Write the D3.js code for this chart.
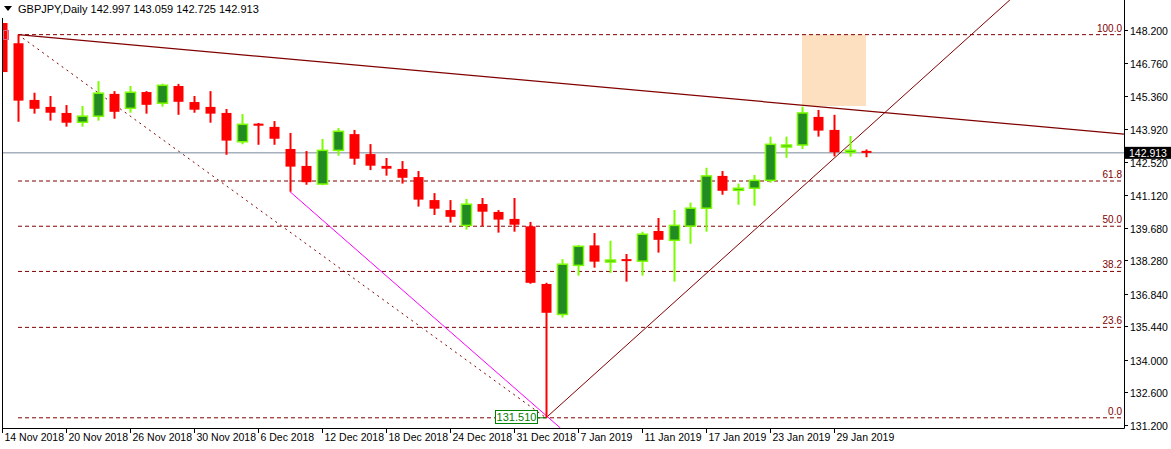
<!DOCTYPE html>
<html>
<head>
<meta charset="utf-8">
<script src="https://cdn.jsdelivr.net/npm/d3@7"></script>
<style>
  body { margin: 0; background: #fff; }
  text { font-family: "Liberation Sans", Arial, sans-serif; }
</style>
</head>
<body>
<div id="container"></div>
<script>
// candle data (index -1 is the half bar at the left edge)
var opens  = [148.50, 147.63, 145.19, 144.89, 144.63, 144.23, 144.49, 145.45, 144.83, 145.53, 145.05, 145.79, 145.10, 144.89, 144.63, 143.39, 144.17, 144.03, 143.08, 142.35, 141.57, 143.02, 143.72, 142.86, 142.35, 142.22, 141.87, 140.88, 140.45, 139.79, 140.71, 140.37, 140.07, 139.75, 137.27, 135.96, 138.07, 138.93, 138.25, 138.34, 138.25, 139.55, 139.15, 139.76, 140.53, 141.92, 141.30, 141.39, 141.73, 143.21, 143.25, 144.46, 143.90, 142.94, 142.997];
var highs  = [148.50, 148.00, 145.50, 145.36, 144.97, 144.93, 146.00, 145.57, 145.79, 145.57, 145.89, 145.88, 145.36, 145.57, 144.80, 144.58, 144.20, 144.28, 143.77, 142.99, 143.51, 143.98, 143.90, 143.29, 142.69, 142.56, 142.13, 141.18, 140.88, 140.93, 140.97, 140.45, 140.97, 139.94, 137.32, 138.34, 138.95, 139.46, 139.13, 138.56, 139.52, 140.11, 140.45, 140.77, 142.27, 142.13, 141.59, 141.96, 143.61, 143.61, 144.90, 144.76, 144.55, 143.64, 143.059];
var lows   = [146.39, 144.25, 144.60, 144.30, 144.04, 144.04, 144.30, 144.38, 144.64, 144.60, 144.90, 144.55, 144.64, 144.21, 142.83, 143.28, 143.26, 143.26, 141.24, 141.54, 141.52, 142.79, 142.40, 142.17, 141.93, 141.59, 140.60, 140.24, 139.91, 139.61, 139.76, 139.48, 139.52, 137.28, 131.51, 135.82, 137.63, 137.97, 137.75, 137.37, 137.63, 138.62, 137.37, 139.00, 139.52, 141.11, 140.68, 140.64, 141.63, 142.70, 143.08, 143.61, 142.76, 142.75, 142.725];
var closes = [146.39, 145.16, 144.81, 144.64, 144.21, 144.49, 145.48, 144.68, 145.52, 144.98, 145.82, 145.11, 144.77, 144.60, 143.44, 144.14, 144.08, 143.52, 142.32, 141.65, 143.02, 143.84, 142.66, 142.36, 142.23, 141.84, 140.90, 140.51, 140.16, 140.70, 140.38, 140.04, 139.82, 137.32, 136.03, 138.12, 138.89, 138.23, 138.30, 138.29, 139.41, 139.17, 139.79, 140.53, 141.92, 141.28, 141.39, 141.73, 143.28, 143.25, 144.63, 143.87, 142.94, 143.02, 142.913];

var dateLabels = ["14 Nov 2018", "20 Nov 2018", "26 Nov 2018", "30 Nov 2018", "6 Dec 2018", "12 Dec 2018", "18 Dec 2018", "24 Dec 2018", "31 Dec 2018", "7 Jan 2019", "11 Jan 2019", "17 Jan 2019", "23 Jan 2019", "29 Jan 2019"];
var dateIdx = [-1, 3, 7, 11, 15, 19, 23, 27, 31, 35, 39, 43, 47, 51];
var priceTicks = [148.2, 146.76, 145.36, 143.92, 142.52, 141.12, 139.68, 138.28, 136.84, 135.44, 134.0, 132.6, 131.2];

var fibHigh = 148.0, fibLow = 131.51;
var fibLevels = [0, 23.6, 38.2, 50, 61.8, 100];
var lastPrice = 142.913;

var W = 1171, H = 449;
var left = 2, right = 1124, bottom = 428;

var x = d3.scaleLinear().domain([-1, 53]).range([2, 866]);
var y = d3.scaleLinear().domain([131.2, 148.2]).range([425, 30]);

var svg = d3.select("#container").append("svg").attr("width", W).attr("height", H);

svg.append("clipPath").attr("id", "plot")
  .append("rect").attr("x", left).attr("y", 0).attr("width", right - left).attr("height", bottom);

var plot = svg.append("g").attr("clip-path", "url(#plot)");

// orange zone
plot.append("rect")
  .attr("x", x(49)).attr("y", y(148.0))
  .attr("width", x(53) - x(49)).attr("height", y(144.93) - y(148.0))
  .attr("fill", "#fde0c0");

// fibo levels
fibLevels.forEach(function (l) {
  var p = fibLow + (fibHigh - fibLow) * l / 100;
  plot.append("line")
    .attr("x1", x(0)).attr("x2", right).attr("y1", y(p)).attr("y2", y(p))
    .attr("stroke", "#800000").attr("stroke-dasharray", "4,3");
  svg.append("text")
    .attr("x", right - 2).attr("y", y(p) - 3)
    .attr("text-anchor", "end").attr("font-size", 10).attr("fill", "#800000")
    .text(l.toFixed(1));
});

// fibo base line (dotted)
plot.append("line")
  .attr("x1", x(0)).attr("y1", y(fibHigh)).attr("x2", x(33)).attr("y2", y(fibLow))
  .attr("stroke", "#800000").attr("stroke-dasharray", "2,4");

// bid line
plot.append("line")
  .attr("x1", left).attr("x2", right).attr("y1", y(lastPrice)).attr("y2", y(lastPrice))
  .attr("stroke", "#778899");

// trend lines
plot.append("line")
  .attr("x1", x(0)).attr("y1", y(fibHigh)).attr("x2", right).attr("y2", y(143.72))
  .attr("stroke", "#800000").attr("stroke-width", 1.2);
plot.append("line")
  .attr("x1", x(33)).attr("y1", y(131.51)).attr("x2", x(62)).attr("y2", y(149.5))
  .attr("stroke", "#800000");
plot.append("line")
  .attr("x1", x(17)).attr("y1", y(141.24)).attr("x2", x(33.9)).attr("y2", y(131.07))
  .attr("stroke", "#ff00ff");

// candles
var idx = d3.range(opens.length);
var bw = 10;
idx.forEach(function (k) {
  var i = k - 1;
  var up = closes[k] >= opens[k];
  var cx = Math.round(x(i)) + 0.5;
  var col = up ? "#7cfc00" : "#ff0000";
  plot.append("line")
    .attr("x1", cx).attr("x2", cx).attr("y1", y(highs[k])).attr("y2", y(lows[k]))
    .attr("stroke", col).attr("stroke-width", 2);
  var top = y(Math.max(opens[k], closes[k]));
  var h = Math.max(2, y(Math.min(opens[k], closes[k])) - top);
  plot.append("rect")
    .attr("x", cx - bw / 2).attr("y", top).attr("width", bw).attr("height", h)
    .attr("fill", up ? "#228b22" : "#ff0000")
    .attr("stroke", up ? "#7cfc00" : "none").attr("stroke-width", 1.5);
});

// low label
plot.append("line")
  .attr("x1", 537).attr("x2", x(33)).attr("y1", y(131.51)).attr("y2", y(131.51))
  .attr("stroke", "#008000");
svg.append("rect").attr("x", 495.5).attr("y", 410.5).attr("width", 42).attr("height", 13)
  .attr("fill", "#fff").attr("stroke", "#008000");
svg.append("text").attr("x", 516.5).attr("y", 421).attr("text-anchor", "middle")
  .attr("font-size", 11).attr("fill", "#008000").text("131.510");

// fibo anchor marker
svg.append("rect").attr("x", 3.5).attr("y", 30.5).attr("width", 5).attr("height", 9)
  .attr("fill", "none").attr("stroke", "#e06080");

// frame
svg.append("path")
  .attr("d", "M" + (left + 0.5) + ",18V" + (bottom + 0.5) + "H" + (right + 0.5) + "V0")
  .attr("fill", "none").attr("stroke", "#000");

// price axis
priceTicks.forEach(function (p) {
  var yy = Math.round(y(p)) + 0.5;
  svg.append("line").attr("x1", right).attr("x2", right + 4).attr("y1", yy).attr("y2", yy).attr("stroke", "#000");
  svg.append("text").attr("x", right + 6).attr("y", yy + 4)
    .attr("font-size", 10.5).attr("fill", "#000").text(p.toFixed(3));
});
svg.append("rect").attr("x", right + 1).attr("y", y(lastPrice) - 6).attr("width", 46).attr("height", 12).attr("fill", "#000");
svg.append("text").attr("x", right + 5).attr("y", y(lastPrice) + 4)
  .attr("font-size", 10.5).attr("fill", "#fff").text(lastPrice.toFixed(3));

// date axis
dateIdx.forEach(function (i, j) {
  var xx = Math.round(x(i)) + 0.5;
  svg.append("line").attr("x1", xx).attr("x2", xx).attr("y1", bottom).attr("y2", bottom + 5).attr("stroke", "#000");
  svg.append("text").attr("x", xx + 2).attr("y", bottom + 13)
    .attr("font-size", 10.5).attr("fill", "#000").text(dateLabels[j]);
});

// header
svg.append("path").attr("d", "M4,6H12L8,11Z").attr("fill", "#000");
svg.append("text").attr("x", 18).attr("y", 13).attr("font-size", 11).attr("fill", "#000")
  .text("GBPJPY,Daily  142.997 143.059 142.725 142.913");
</script>
</body>
</html>
